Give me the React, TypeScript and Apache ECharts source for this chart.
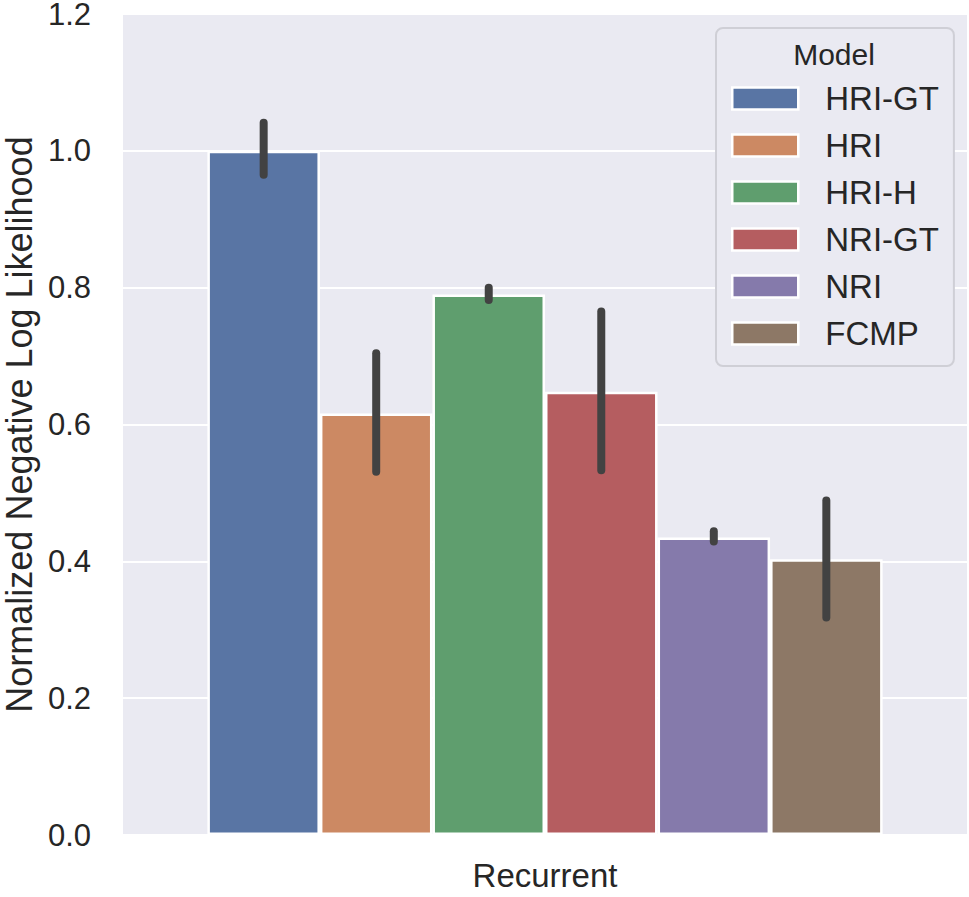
import React, { useEffect, useRef } from "react";
import * as echarts from "echarts";

const categories = ["Recurrent"];
const models = ["HRI-GT", "HRI", "HRI-H", "NRI-GT", "NRI", "FCMP"];
const means = [1.0, 0.616, 0.79, 0.648, 0.435, 0.403];
const lows = [0.965, 0.531, 0.782, 0.533, 0.429, 0.318];
const highs = [1.041, 0.704, 0.8, 0.765, 0.444, 0.489];
const colors = ["#5975a4", "#cc8963", "#5f9e6e", "#b55d60", "#857aab", "#8d7866"];
const yAxisTitle = "Normalized Negative Log Likelihood";
const legendTitle = "Model";

const FONT = "'Liberation Sans', Arial, Helvetica, sans-serif";
const TEXT = "#262626";

export default function App() {
  const ref = useRef<HTMLDivElement>(null);

  useEffect(() => {
    document.body.style.margin = "0";
    if (!ref.current) return;
    const chart = echarts.init(ref.current, undefined, { renderer: "svg" });

    const barSeries = models.map((m, i) => ({
      name: m,
      type: "bar",
      data: [means[i]],
      barGap: "0%",
      barCategoryGap: "20%",
      itemStyle: { color: colors[i], borderColor: "#ffffff", borderWidth: 2.5 },
      emphasis: { disabled: true },
      z: 2,
    }));

    const errData = models.map((m, i) => [0, lows[i], highs[i], i]);

    const option = {
      animation: false,
      textStyle: { fontFamily: FONT },
      grid: {
        left: 123,
        right: 2,
        top: 14,
        bottom: 62,
        show: true,
        containLabel: false,
        outerBoundsMode: "none",
        backgroundColor: "#EAEAF2",
        borderWidth: 0,
      },
      xAxis: {
        type: "category",
        data: categories,
        axisLine: { show: false },
        axisTick: { show: false },
        splitLine: { show: false },
        axisLabel: { fontSize: 33, color: TEXT, margin: 24, fontFamily: FONT },
      },
      yAxis: {
        type: "value",
        min: 0,
        max: 1.2,
        interval: 0.2,
        name: yAxisTitle,
        nameLocation: "middle",
        nameGap: 86,
        nameTextStyle: { fontSize: 36, color: TEXT, fontFamily: FONT },
        axisLine: { show: false },
        axisTick: { show: false },
        splitLine: { show: true, lineStyle: { color: "#ffffff", width: 2 } },
        axisLabel: {
          fontSize: 31,
          color: TEXT,
          margin: 32,
          fontFamily: FONT,
          formatter: (v: number) => v.toFixed(1),
        },
      },
      legend: {
        data: models,
        orient: "vertical",
        left: 716,
        top: 28,
        padding: [54, 15, 16, 15],
        backgroundColor: "#EAEAF2",
        borderColor: "#cfcfd6",
        borderWidth: 2,
        borderRadius: 7,
        icon: "rect",
        itemWidth: 66,
        itemHeight: 22,
        itemGap: 14,
        itemStyle: { borderColor: "#ffffff", borderWidth: 2.5 },
        textStyle: {
          fontSize: 33,
          color: TEXT,
          fontFamily: FONT,
          lineHeight: 33,
          padding: [0, 0, 0, 22],
        },
        selectedMode: false,
      },
      graphic: [
        {
          type: "text",
          x: 834,
          y: 54,
          z: 100,
          style: {
            text: legendTitle,
            fontSize: 30,
            fontFamily: FONT,
            fill: TEXT,
            textAlign: "center",
            textVerticalAlign: "middle",
          },
        },
      ],
      series: [
        ...barSeries,
        {
          name: "errors",
          type: "custom",
          data: errData,
          encode: { x: 0, y: [1, 2] },
          z: 10,
          silent: true,
          renderItem: (params: any, api: any) => {
            const i = api.value(3);
            const lo = api.coord([api.value(0), api.value(1)]);
            const hi = api.coord([api.value(0), api.value(2)]);
            const band = api.size([1, 0])[0];
            const groupW = band * 0.8;
            const barW = groupW / models.length;
            const x = lo[0] - groupW / 2 + (i + 0.5) * barW;
            return {
              type: "line",
              shape: { x1: x, y1: lo[1], x2: x, y2: hi[1] },
              style: { stroke: "#424242", lineWidth: 8, lineCap: "round" },
            };
          },
        },
      ],
    };

    chart.setOption(option as any);
    return () => chart.dispose();
  }, []);

  return <div ref={ref} style={{ width: 969, height: 897 }} />;
}
